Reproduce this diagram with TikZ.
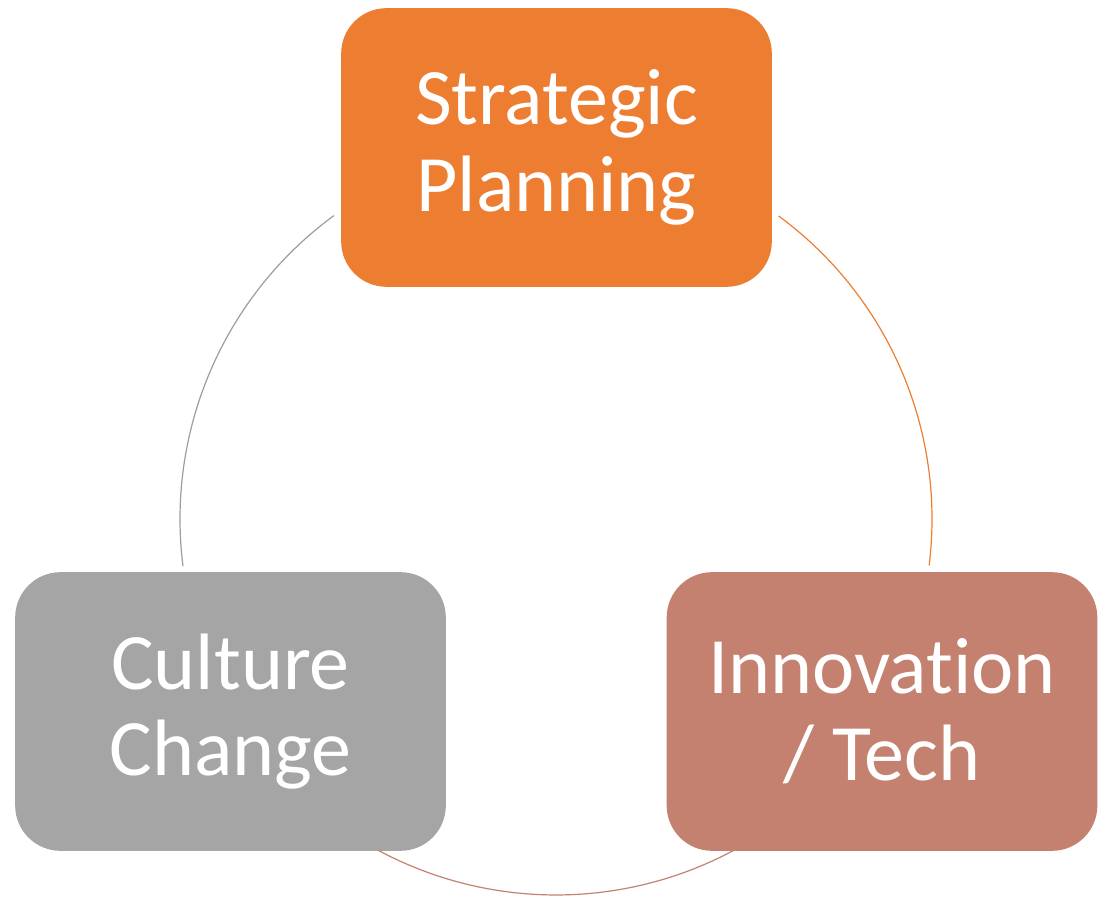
\documentclass[tikz,border=0pt]{standalone}
\usepackage{fontspec}
\setmainfont[Ligatures={NoCommon}]{Carlito}
\usetikzlibrary{positioning}

\definecolor{planorange}{HTML}{ED7D31}
\definecolor{techred}{HTML}{C5816F}
\definecolor{culturegray}{HTML}{A5A5A5}

\begin{document}
\begin{tikzpicture}[
	x=0.75pt, y=0.75pt,
	nodes = {
		align = center
	},
	ring/.style={
		line width=0.9pt
	},
	block/.style={
		rectangle,
		rounded corners=34pt,
		minimum width=323pt,
		minimum height=209pt,
		text=white,
		font=\fontsize{60}{65}\selectfont
	}
]
	\useasboundingbox (0,0) rectangle (1106,900);
	\coordinate (hub) at (556,381);

	\node[block, fill=planorange] (planning) at (556.5,752.5) {
		Strategic\\
		Planning
	};

	\node[block, fill=culturegray] (culture) at (230.5,188.5) {
		Culture\\
		Change
	};

	\node[block, fill=techred] (tech) at (882,188.5) {
		Innovation\\
		/ Tech
	};

	\draw[ring, planorange] ([shift={(53.7:282pt)}]hub) arc[start angle=53.7, end angle=-7.1, radius=282pt];
	\draw[ring, techred] ([shift={(-61.8:282pt)}]hub) arc[start angle=-61.8, end angle=-118.2, radius=282pt];
	\draw[ring, culturegray!95!black] ([shift={(187.2:282pt)}]hub) arc[start angle=187.2, end angle=126.2, radius=282pt];
\end{tikzpicture}
\end{document}
